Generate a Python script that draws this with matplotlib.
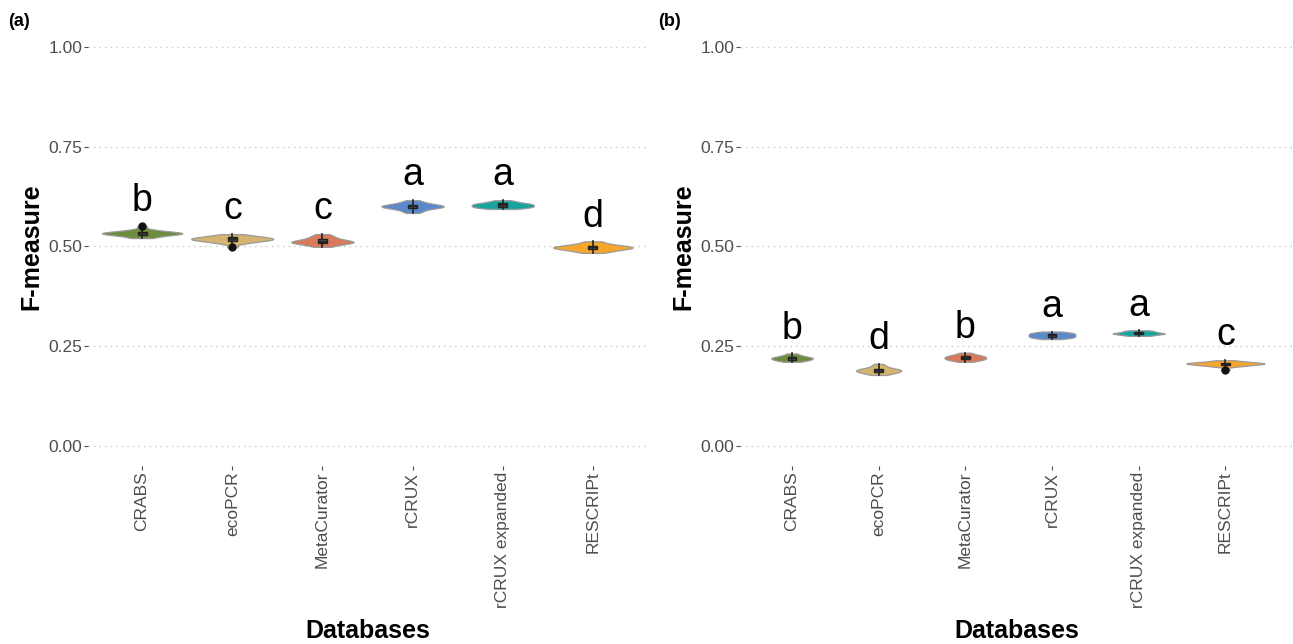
import matplotlib
matplotlib.use("Agg")
import matplotlib.pyplot as plt

plt.rcParams['font.family'] = ['Liberation Sans', 'DejaVu Sans']

databases = ['CRABS', 'ecoPCR', 'MetaCurator', 'rCRUX', 'rCRUX expanded', 'RESCRIPt']
colors = ['#6E8C3E', '#D4B46E', '#D97A5A', '#5B89CC', '#16A59E', '#F6A62C']

# F-measure values per database, panel (a)
crabs_a = [0.521, 0.523, 0.526, 0.528, 0.529, 0.530, 0.531, 0.532, 0.533,
           0.533, 0.534, 0.535, 0.536, 0.537, 0.538, 0.540, 0.543, 0.551]
ecopcr_a = [0.498, 0.507, 0.510, 0.512, 0.514, 0.515, 0.516, 0.517, 0.518,
            0.519, 0.520, 0.521, 0.522, 0.523, 0.524, 0.526, 0.528, 0.531]
meta_a = [0.499, 0.502, 0.505, 0.507, 0.508, 0.509, 0.510, 0.511, 0.512,
          0.513, 0.514, 0.515, 0.517, 0.519, 0.521, 0.524, 0.527, 0.531]
rcrux_a = [0.584, 0.588, 0.591, 0.594, 0.596, 0.597, 0.598, 0.599, 0.600,
           0.601, 0.602, 0.603, 0.604, 0.605, 0.607, 0.609, 0.612, 0.616]
rcruxe_a = [0.594, 0.596, 0.597, 0.598, 0.599, 0.600, 0.601, 0.602, 0.603,
            0.604, 0.605, 0.606, 0.607, 0.608, 0.609, 0.611, 0.613, 0.616]
rescript_a = [0.484, 0.487, 0.489, 0.491, 0.493, 0.494, 0.495, 0.496, 0.497,
              0.498, 0.499, 0.500, 0.501, 0.502, 0.504, 0.506, 0.509, 0.513]

# F-measure values per database, panel (b)
crabs_b = [0.211, 0.213, 0.214, 0.215, 0.216, 0.217, 0.218, 0.219, 0.220,
           0.220, 0.221, 0.222, 0.223, 0.224, 0.225, 0.227, 0.229, 0.232]
ecopcr_b = [0.178, 0.180, 0.182, 0.184, 0.185, 0.186, 0.187, 0.188, 0.189,
            0.190, 0.191, 0.192, 0.193, 0.194, 0.196, 0.199, 0.202, 0.206]
meta_b = [0.211, 0.213, 0.215, 0.216, 0.217, 0.218, 0.219, 0.220, 0.221,
          0.222, 0.223, 0.224, 0.225, 0.226, 0.227, 0.229, 0.231, 0.234]
rcrux_b = [0.268, 0.270, 0.271, 0.272, 0.273, 0.274, 0.275, 0.276, 0.277,
           0.278, 0.279, 0.280, 0.281, 0.282, 0.283, 0.284, 0.285, 0.287]
rcruxe_b = [0.276, 0.277, 0.278, 0.279, 0.280, 0.281, 0.281, 0.282, 0.282,
            0.283, 0.283, 0.284, 0.285, 0.286, 0.287, 0.288, 0.289, 0.290]
rescript_b = [0.191, 0.199, 0.201, 0.202, 0.203, 0.204, 0.205, 0.206, 0.206,
              0.207, 0.207, 0.208, 0.208, 0.209, 0.210, 0.211, 0.213, 0.215]

letters_a = ['b', 'c', 'c', 'a', 'a', 'd']
letters_b = ['b', 'd', 'b', 'a', 'a', 'c']

# violin widths (style), roughly like ggplot's scale="area"
widths_a = [0.89, 0.91, 0.69, 0.69, 0.69, 0.88]
widths_b = [0.48, 0.52, 0.48, 0.54, 0.60, 0.90]


def draw_panel(ax, data, letters, widths, xmax):
    pos = list(range(1, len(data) + 1))
    vp = ax.violinplot(data, positions=pos, widths=widths, showextrema=False,
                       bw_method=0.45, points=300)
    for body, c in zip(vp['bodies'], colors):
        body.set_facecolor(c)
        body.set_edgecolor('#9a9a9a')
        body.set_linewidth(0.9)
        body.set_alpha(1)
        body.set_zorder(2)
    ax.boxplot(data, positions=pos, widths=0.1, patch_artist=True, showcaps=False,
               boxprops=dict(facecolor='#4a4a4a', edgecolor='#222222', linewidth=1.0),
               medianprops=dict(color='#222222', linewidth=1.2),
               whiskerprops=dict(color='#222222', linewidth=1.2),
               flierprops=dict(marker='o', markerfacecolor='#111111',
                               markeredgecolor='#111111', markersize=5),
               zorder=3)
    for p, vals, lab in zip(pos, data, letters):
        ax.text(p, max(vals) + 0.037, lab, ha='center', va='baseline',
                fontsize=27, color='black')

    ax.set_xlim(0.4, xmax)
    ax.set_ylim(-0.05, 1.05)
    ax.set_yticks([0, 0.25, 0.5, 0.75, 1.0])
    ax.set_yticklabels(['0.00', '0.25', '0.50', '0.75', '1.00'])
    ax.set_xticks(pos)
    ax.set_xticklabels(databases, rotation=90)
    ax.tick_params(axis='both', labelsize=12.5, labelcolor='#4d4d4d', color='#4d4d4d',
                   length=3, width=0.8, pad=1)
    ax.grid(axis='y', color='#c8c8c8', linestyle=(0, (1, 3)), linewidth=1.0)
    ax.set_axisbelow(True)
    for s in ax.spines.values():
        s.set_visible(False)
    ax.set_ylabel('F-measure', fontsize=18, fontweight='bold', labelpad=4)
    ax.set_xlabel('Databases', fontsize=18, fontweight='bold', labelpad=8)


fig = plt.figure(figsize=(12.93, 6.44), dpi=100)
ax_a = fig.add_axes([88 / 1293, 1 - 466 / 644, 559 / 1293, 439 / 644])
ax_b = fig.add_axes([740 / 1293, 1 - 466 / 644, 553 / 1293, 439 / 644])

draw_panel(ax_a, [crabs_a, ecopcr_a, meta_a, rcrux_a, rcruxe_a, rescript_a],
           letters_a, widths_a, 6.6)
draw_panel(ax_b, [crabs_b, ecopcr_b, meta_b, rcrux_b, rcruxe_b, rescript_b],
           letters_b, widths_b, 6.78)

fig.text(8 / 1293, 1 - 22 / 644, '(a)', fontsize=13, fontweight='bold', va='center')
fig.text(658 / 1293, 1 - 22 / 644, '(b)', fontsize=13, fontweight='bold', va='center')

fig.savefig('out.png', dpi=100)
